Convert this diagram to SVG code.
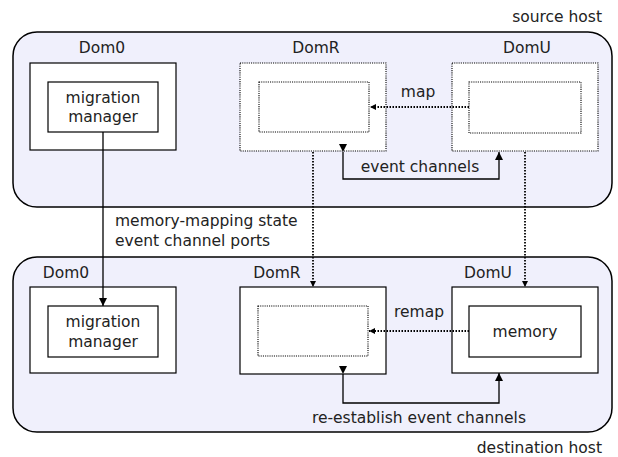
<svg xmlns="http://www.w3.org/2000/svg" width="618" height="457" viewBox="0 0 618 457">
<style>
text{font-family:"DejaVu Sans","Liberation Sans",sans-serif;font-size:15.5px;fill:#222}
.host{fill:#f0f0fc;stroke:#000;stroke-width:1.5}
.box{fill:#fff;stroke:#000;stroke-width:1.2}
.dbox{fill:#fff;stroke:#000;stroke-width:1.1;stroke-dasharray:1.1,1.1}
.ln{fill:none;stroke:#000;stroke-width:1.3}
.dl{fill:none;stroke:#000;stroke-width:1.8;stroke-dasharray:1.5,1.5}
</style>
<defs>
<marker id="ah" viewBox="0 0 10 10" refX="10" refY="5" markerWidth="8" markerHeight="8" markerUnits="userSpaceOnUse" orient="auto"><path d="M0,0 L10,5 L0,10 z" fill="#000"/></marker>
<marker id="ahd" viewBox="0 0 10 10" refX="10" refY="5" markerWidth="6" markerHeight="6" markerUnits="userSpaceOnUse" orient="auto"><path d="M0,0 L10,5 L0,10 z" fill="#000"/></marker>
</defs>
<g id="source-host">
<rect class="host" x="13" y="32" width="599" height="175" rx="24"/>
<text x="602" y="22" text-anchor="end">source host</text>
</g>
<g id="dest-host">
<rect class="host" x="13" y="257" width="599" height="175" rx="24"/>
<text x="602" y="453" text-anchor="end">destination host</text>
</g>
<g id="src-dom0">
<text x="102" y="53" text-anchor="middle">Dom0</text>
<rect class="box" x="30" y="63" width="146" height="87"/>
<rect class="box" x="48" y="82" width="110" height="50"/>
<text x="103" y="103" text-anchor="middle">migration</text>
<text x="103" y="122" text-anchor="middle">manager</text>
</g>
<g id="src-domr">
<text x="316" y="53" text-anchor="middle">DomR</text>
<rect class="dbox" x="240" y="63" width="146" height="88"/>
<rect class="dbox" x="259" y="82" width="110" height="50"/>
</g>
<g id="src-domu">
<text x="527" y="53" text-anchor="middle">DomU</text>
<rect class="dbox" x="452" y="63" width="146" height="88"/>
<rect class="dbox" x="469" y="82" width="112" height="51"/>
</g>
<g id="dst-dom0">
<text x="66" y="278" text-anchor="middle">Dom0</text>
<rect class="box" x="30" y="287" width="146" height="86"/>
<rect class="box" x="48" y="306" width="110" height="51"/>
<text x="103" y="327" text-anchor="middle">migration</text>
<text x="103" y="347" text-anchor="middle">manager</text>
</g>
<g id="dst-domr">
<text x="277" y="278" text-anchor="middle">DomR</text>
<rect class="box" x="240" y="287" width="146" height="87"/>
<rect class="dbox" x="258" y="306" width="110" height="50"/>
</g>
<g id="dst-domu">
<text x="488" y="278" text-anchor="middle">DomU</text>
<rect class="box" x="452" y="287" width="146" height="86"/>
<rect class="box" x="469" y="306" width="112" height="51"/>
<text x="525" y="337" text-anchor="middle">memory</text>
</g>
<g id="connectors">
<line class="dl" x1="469" y1="107" x2="370" y2="107" marker-end="url(#ahd)"/>
<text x="418" y="97" text-anchor="middle">map</text>
<polyline class="ln" points="343,152 343,179 499,179 499,152" marker-start="url(#ah)" marker-end="url(#ah)"/>
<text x="420" y="172" text-anchor="middle">event channels</text>
<line class="ln" x1="103" y1="132" x2="103" y2="306" marker-end="url(#ah)"/>
<text x="115" y="226">memory-mapping state</text>
<text x="115" y="246">event channel ports</text>
<line class="dl" x1="313" y1="152" x2="313" y2="287" marker-end="url(#ahd)"/>
<line class="dl" x1="525" y1="152" x2="525" y2="287" marker-end="url(#ahd)"/>
<line class="dl" x1="469" y1="331" x2="369" y2="331" marker-end="url(#ahd)"/>
<text x="419" y="317" text-anchor="middle">remap</text>
<polyline class="ln" points="343,374 343,403 499,403 499,373" marker-start="url(#ah)" marker-end="url(#ah)"/>
<text x="526" y="423" text-anchor="end">re-establish event channels</text>
</g>
</svg>
